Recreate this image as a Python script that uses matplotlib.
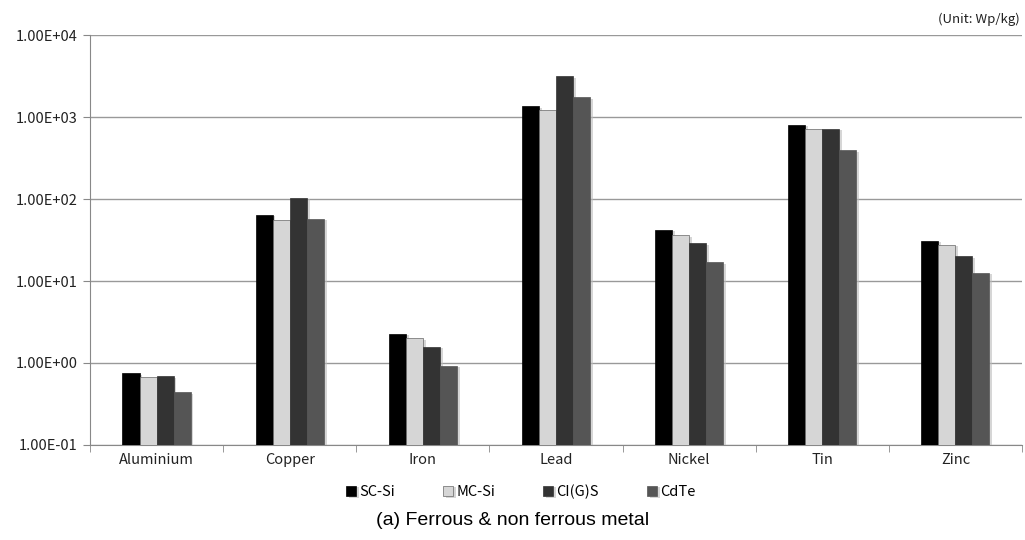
import numpy as np
import matplotlib.pyplot as plt
import matplotlib.patheffects as pe

plt.rcParams['font.family'] = ['Noto Sans CJK KR', 'DejaVu Sans']

# values (Wp/kg)
metals = ["Aluminium", "Copper", "Iron", "Lead", "Nickel", "Tin", "Zinc"]
series = ["SC-Si", "MC-Si", "CI(G)S", "CdTe"]
sc_si = [0.75, 64, 2.26, 1360, 42, 800, 31]
mc_si = [0.67, 56, 2.0, 1215, 36, 715, 27.5]
cigs = [0.69, 104, 1.57, 3160, 29, 715, 20]
cdte = [0.44, 57, 0.92, 1750, 17, 395, 12.5]
colors = ["#000000", "#d6d6d6", "#333333", "#555555"]

fig = plt.figure(figsize=(10.25, 5.4), dpi=100)
ax = fig.add_axes([0.0878, 0.176, 0.9092, 0.759])

x = np.arange(len(metals))
w = 0.128
shadow = [pe.SimplePatchShadow(offset=(2, -1), shadow_rgbFace="#bbbbbb", alpha=0.6), pe.Normal()]
for k, (vals, name) in enumerate(zip([sc_si, mc_si, cigs, cdte], series)):
    bars = ax.bar(x + (k - 1.5) * w, np.array(vals) - 0.1, w, bottom=0.1, color=colors[k],
                  edgecolor="#666666" if k == 1 else colors[k], linewidth=0.5, label=name, zorder=3)
    for b in bars:
        b.set_path_effects(shadow)

ax.set_yscale("log")
ax.set_ylim(0.1, 1e4)
ax.set_xlim(-0.5, len(metals) - 0.5)
ax.set_yticks([0.1, 1, 10, 100, 1000, 10000])
ax.set_yticklabels(["1.00E-01", "1.00E+00", "1.00E+01", "1.00E+02", "1.00E+03", "1.00E+04"])
ax.yaxis.set_minor_locator(plt.NullLocator())
ax.grid(axis="y", color="#999999", linewidth=1, zorder=0)

ax.set_xticks(x)
ax.set_xticklabels(metals)
ax.set_xticks(np.arange(len(metals) + 1) - 0.5, minor=True)
ax.tick_params(axis="x", which="major", length=0, labelsize=10.5, pad=6, labelcolor="#222222")
ax.tick_params(axis="x", which="minor", length=5, color="#888888", direction="out")
ax.tick_params(axis="y", length=5, color="#888888", labelsize=10.5, pad=4, labelcolor="#222222")

for s in ["top", "right"]:
    ax.spines[s].set_visible(False)
for s in ["left", "bottom"]:
    ax.spines[s].set_color("#888888")

fig.text(0.995, 0.965, "(Unit: Wp/kg)", ha="right", va="center", fontsize=9.5, color="#222222")

fig.legend(loc="center", bbox_to_anchor=(0.508, 0.089), ncol=4, frameon=False,
           handlelength=0.7, handleheight=0.7, handletextpad=0.2, columnspacing=3.3,
           fontsize=10.5)

fig.text(0.5, 0.037, "(a) Ferrous & non ferrous metal", ha="center", va="center",
         fontsize=14, family="Liberation Sans")

fig.savefig("out.png", dpi=100)
